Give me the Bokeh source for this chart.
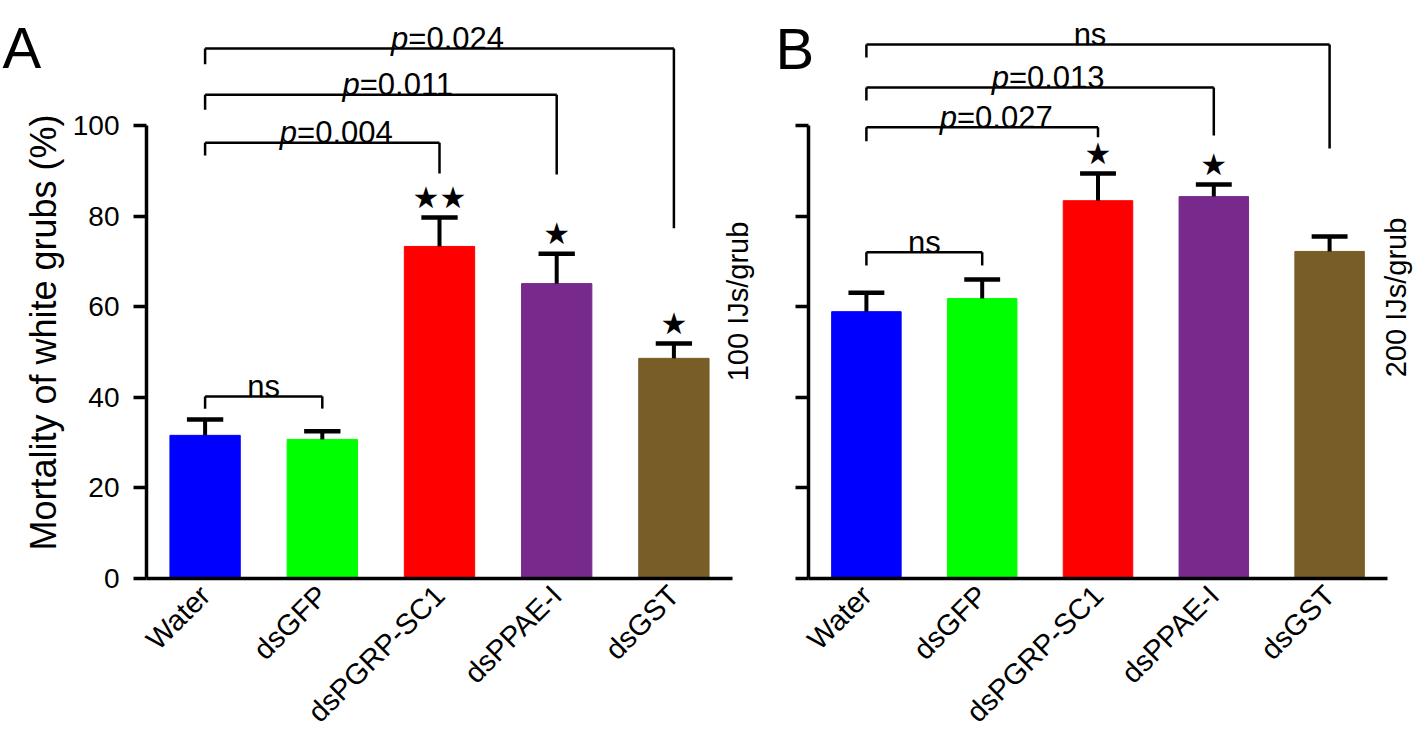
import math
from bokeh.plotting import figure
from bokeh.models import Range1d, FixedTicker, Label, ColumnDataSource
from bokeh.layouts import row
from bokeh.embed import file_html
from bokeh.resources import INLINE
from bokeh.core.properties import value

# ---------------- data ----------------
categories = ["Water", "dsGFP", "dsPGRP-SC1", "dsPPAE-I", "dsGST"]
bar_colors = ["#0000FF", "#00FF00", "#FF0000", "#772A8C", "#785E26"]

mortality_A = [31.6, 30.7, 73.3, 65.1, 48.6]
sem_A = [3.5, 1.8, 6.4, 6.6, 3.3]
stars_A = ["", "", "★★", "★", "★"]

mortality_B = [58.9, 61.8, 83.4, 84.3, 72.2]
sem_B = [4.2, 4.2, 6.0, 2.7, 3.3]
stars_B = ["", "", "★", "★", ""]

y_ticks = [0, 20, 40, 60, 80, 100]

# comparison brackets: left group, right group, label
pairs_A = [(0, 1, "ns"), (0, 2, "p=0.004"), (0, 3, "p=0.011"), (0, 4, "p=0.024")]
levels_A = [40.2, 96.2, 106.8, 117.0]          # bracket bar heights
left_ends_A = [37.5, 93.4, 103.5, 113.5]       # left leg ends
right_ends_A = [37.5, 89.4, 89.2, 77.3]        # right leg ends
label_dx_A = [0, 14, 18, 8]                    # small horizontal text shift (px)

pairs_B = [(0, 1, "ns"), (0, 2, "p=0.027"), (0, 3, "p=0.013"), (0, 4, "ns")]
levels_B = [72.0, 99.6, 108.4, 117.9]
left_ends_B = [69.1, 96.5, 105.5, 115.0]
right_ends_B = [69.1, 97.4, 97.8, 94.9]
label_dx_B = [0, 14, 8, -8]

FONT = "Liberation Sans"
H = 736
ZERO_PX = 578          # distance of the zero line from the top
PX_PER_UNIT = 4.53
YMAX = ZERO_PX / PX_PER_UNIT
YMIN = -(H - ZERO_PX) / PX_PER_UNIT
TXT = 31


def make_panel(vals, sems, stars, pairs, levels, lefts, rights, dxs,
               width, axis_px, step_px, letter, side_text, ytitle, show_ylabels):
    x0 = -axis_px / step_px
    x1 = (width - axis_px) / step_px
    p = figure(width=width, height=H, x_range=Range1d(x0, x1), y_range=Range1d(YMIN, YMAX),
               output_backend="svg", toolbar_location=None,
               min_border_left=0, min_border_right=0,
               min_border_top=0, min_border_bottom=0)
    p.outline_line_color = None
    p.grid.visible = False
    p.background_fill_color = "white"
    p.border_fill_color = "white"

    xs = [i + 0.5 for i in range(len(categories))]
    tops = [v + s for v, s in zip(vals, sems)]

    p.vbar(x=xs, top=vals, bottom=0, width=0.6, fill_color=bar_colors,
           line_color=bar_colors)

    # error bars (upper only)
    p.segment(x0=xs, y0=vals, x1=xs, y1=tops, line_color="black", line_width=4)
    p.segment(x0=[x - 0.155 for x in xs], y0=tops, x1=[x + 0.155 for x in xs], y1=tops,
              line_color="black", line_width=4.5)

    # significance stars
    sx = [x for x, s in zip(xs, stars) if s]
    sy = [t for t, s in zip(tops, stars) if s]
    st = [s for s in stars if s]
    p.text(x=sx, y=sy, text=st, text_align="center", text_baseline="middle",
           y_offset=-20, text_font=value("DejaVu Sans"), text_font_size="30px",
           text_color="black")

    # brackets
    bx0, by0, bx1, by1 = [], [], [], []
    ns_x, ns_y, ns_t, ns_dx = [], [], [], []
    p_x, p_y, p_rest, p_dx = [], [], [], []
    for (i, j, lab), lev, le, re, dx in zip(pairs, levels, lefts, rights, dxs):
        xi, xj = xs[i], xs[j]
        bx0 += [xi, xi, xj]
        by0 += [lev, le, lev]
        bx1 += [xj, xi, xj]
        by1 += [lev, lev, re]
        mid = (xi + xj) / 2
        if lab.startswith("p="):
            rest = lab[1:]
            w_p = 0.556 * TXT
            w_rest = TXT * sum(0.278 if c == "." else 0.584 if c == "=" else 0.556 for c in rest)
            p_x.append(mid)
            p_y.append(lev)
            p_rest.append(rest)
            p_dx.append(dx - (w_p + w_rest) / 2 + w_p)
        else:
            ns_x.append(mid)
            ns_y.append(lev)
            ns_t.append(lab)
            ns_dx.append(dx)
    p.segment(x0=bx0, y0=by0, x1=bx1, y1=by1, line_color="black", line_width=2.5)

    src_p = ColumnDataSource(dict(x=p_x, y=p_y, rest=p_rest, dx=p_dx,
                                  pp=["p"] * len(p_x)))
    p.text(x="x", y="y", text="pp", source=src_p, x_offset="dx", y_offset=-10,
           text_align="right", text_baseline="alphabetic", text_font=value(FONT),
           text_font_style="italic", text_font_size=f"{TXT}px", text_color="black")
    p.text(x="x", y="y", text="rest", source=src_p, x_offset="dx", y_offset=-10,
           text_align="left", text_baseline="alphabetic", text_font=value(FONT),
           text_font_size=f"{TXT}px", text_color="black")
    src_ns = ColumnDataSource(dict(x=ns_x, y=ns_y, t=ns_t, dx=ns_dx))
    p.text(x="x", y="y", text="t", source=src_ns, x_offset="dx", y_offset=-10,
           text_align="center", text_baseline="alphabetic", text_font=value(FONT),
           text_font_size=f"{TXT}px", text_color="black")

    # axes
    xa = p.xaxis[0]
    xa.fixed_location = 0
    xa.bounds = (0, 5)
    xa.ticker = FixedTicker(ticks=xs)
    xa.major_label_overrides = {x: c for x, c in zip(xs, categories)}
    xa.major_label_orientation = math.pi / 4
    xa.major_tick_out = 0
    xa.major_tick_in = 0
    xa.minor_tick_line_color = None
    xa.major_label_standoff = 12
    xa.major_label_text_font = FONT
    xa.major_label_text_font_size = "29px"
    xa.major_label_text_color = "black"
    xa.axis_line_width = 3.5
    xa.axis_line_color = "black"

    ya = p.yaxis[0]
    ya.fixed_location = 0
    ya.ticker = FixedTicker(ticks=y_ticks)
    ya.bounds = (0, 100)
    ya.major_tick_out = 13
    ya.major_tick_in = 0
    ya.major_tick_line_width = 3.5
    ya.major_tick_line_color = "black"
    ya.minor_tick_line_color = None
    ya.axis_line_width = 3.5
    ya.axis_line_color = "black"
    ya.major_label_text_font = FONT
    ya.major_label_text_font_size = "28px"
    ya.major_label_text_color = "black"
    ya.major_label_standoff = 14
    if not show_ylabels:
        ya.major_label_overrides = {t: "" for t in y_ticks}

    if ytitle is not None:
        p.add_layout(Label(x=ytitle[1], y=ytitle[2], x_units="screen", y_units="screen",
                           text=ytitle[0], angle=math.pi / 2, text_font=FONT,
                           text_font_size="36px", text_color="black",
                           text_align="center", text_baseline="middle"))
    p.add_layout(Label(x=letter[1], y=letter[2], x_units="screen", y_units="screen",
                       text=letter[0], text_font=FONT, text_font_size="58px",
                       text_color="black", text_align="left", text_baseline="alphabetic"))
    p.add_layout(Label(x=side_text[1], y=side_text[2], x_units="screen", y_units="screen",
                       text=side_text[0], angle=math.pi / 2, text_font=FONT,
                       text_font_size="29px", text_color="black",
                       text_align="center", text_baseline="middle"))
    return p


base = H - ZERO_PX  # screen y of the zero line measured from the bottom
pA = make_panel(mortality_A, sem_A, stars_A, pairs_A, levels_A, left_ends_A, right_ends_A,
                label_dx_A, 760, 146, 117.2, ("A", 2, base + 531), ("100 IJs/grub", 737, base + 277),
                ("Mortality of white grubs (%)", 43, base + 246), True)
pB = make_panel(mortality_B, sem_B, stars_B, pairs_B, levels_B, left_ends_B, right_ends_B,
                label_dx_B, 658, 48, 115.8, ("B", 15, base + 530), ("200 IJs/grub", 635, base + 281),
                None, False)

layout = row(pA, pB)
open("out.html", "w").write(file_html(layout, INLINE))
